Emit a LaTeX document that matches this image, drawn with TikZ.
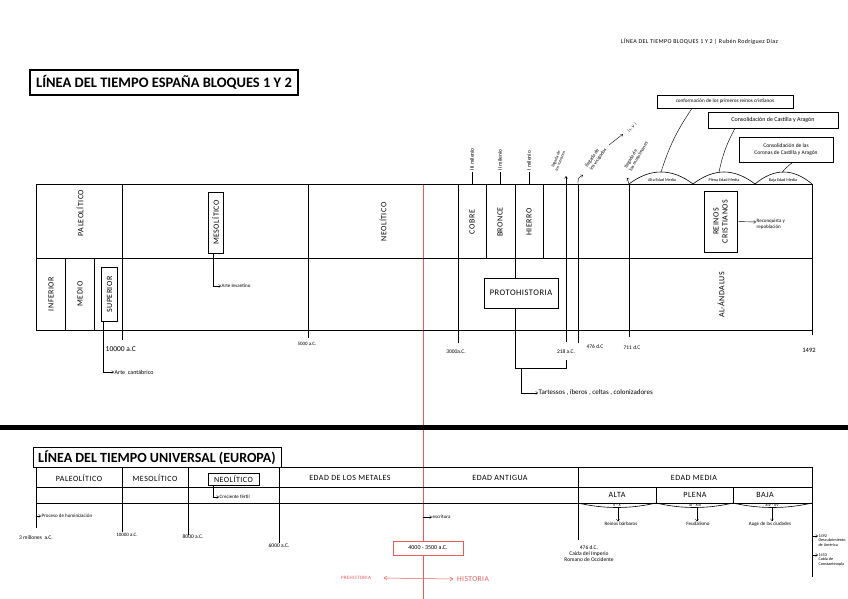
\documentclass[tikz,border=0pt]{standalone}
\usepackage{fontspec}
\setmainfont{Carlito}
\newfontfamily\spc[LetterSpace=6]{Carlito}
\usetikzlibrary{arrows.meta}
\definecolor{redl}{RGB}{236,90,90}
\begin{document}
\begin{tikzpicture}[x=1pt,y=-1pt,
  ln/.style={line width=0.6pt},
  thinl/.style={line width=0.45pt},
  arr/.style={line width=0.4pt,-{Straight Barb[length=2pt,width=3pt]}},
  lbl/.style={font=\spc\fontsize{8}{9}\selectfont, inner sep=1pt},
  vlbl/.style={lbl, rotate=90},
  hw/.style={font=\fontsize{5}{5.5}\selectfont, inner sep=0.5pt},
  hws/.style={font=\fontsize{4.2}{4.6}\selectfont, inner sep=0.3pt},
  hwm/.style={font=\fontsize{7.5}{8.5}\selectfont, inner sep=0.5pt},
  cbox/.style={draw, line width=0.6pt, inner sep=1.5pt},
]
\useasboundingbox (0,0) rectangle (848,599);
\fill[white] (0,0) rectangle (848,599);

% header
\node[anchor=west, font=\spc\fontsize{6}{7}\selectfont, inner sep=0] (hdr) at (621,42) {LÍNEA DEL TIEMPO BLOQUES 1 Y 2 | Rubén Rodríguez Díaz};

% title 1
\node[draw, line width=1.1pt, minimum width=268pt, minimum height=25pt, font=\bfseries\fontsize{14.5}{15}\selectfont, inner xsep=2pt] (t1) at (164,82.5) {LÍNEA DEL TIEMPO ESPAÑA BLOQUES 1 Y 2};

% red line
\draw[redl, line width=0.6pt] (423,184) -- (423,599);

% ---------- top chart grid
\draw[ln] (36,184) rectangle (812,330);
\draw[ln] (36,258) -- (812,258);
\draw[ln] (122,184) -- (122,340);
\draw[ln] (65,258) -- (65,330);
\draw[ln] (94,258) -- (94,330);
\draw[ln] (308,184) -- (308,338);
\draw[ln] (458,184) -- (458,343);
\draw[ln] (486,184) -- (486,258);
\draw[ln] (543,184) -- (543,258);
\draw[ln] (515,184) -- (515,278);
\draw[ln] (515,308) -- (515,368) -- (566,368) -- (566,360);
\draw[ln,-{Straight Barb[length=2pt,width=3pt]}] (566,342) -- (566,176);
\draw[ln] (578,343) -- (578,184);
\draw[ln] (629,337) -- (629,184);
\draw[ln] (812,330) -- (812,335);

% milenios
\foreach \x/\t/\n in {472/III/a, 500/II/b, 529/I/c}{
  \draw[thinl] (\x,184) -- (\x,172);
  \node[font=\fontsize{5.5}{6}\selectfont, inner sep=0.5pt, rotate=90, anchor=west] (mil\n) at (\x,171) {\t\ milenio};
}

% llegadas
\node[hws, rotate=68, align=center] (rom) at (558,160) {llegada de\\los romanos};
\node[hw, rotate=55, align=left] (vis) at (596,158) {llegada de\\los visigodos};
\coordinate (hk1) at (583,175);
\draw[arr] (578,184) .. controls (578,178) .. (hk1);
\coordinate (sva) at (609,145);
\coordinate (svb) at (623,134);
\draw[arr] (sva) -- (svb);
\node[hws, rotate=45] (sv) at (632,128) {( s. V )};
\node[hw, rotate=60, align=left] (mus) at (636,155) {llegada de\\los musulmanes};
\coordinate (hk2) at (627,178);
\draw[arr] (629,184) .. controls (629,181) .. (hk2);

% arcs Edad Media (top)
\draw[ln] (629,184) .. controls (650,168) and (672,168) .. (693,184)
          .. controls (714,168) and (734,168) .. (755,184)
          .. controls (774,168) and (793,168) .. (812,184);
\node[hws] (am) at (662,180.5) {Alta Edad Media};
\node[hws] (pm) at (724,180.5) {Plena Edad Media};
\node[hws] (bm) at (783,180.5) {Baja Edad Media};
\coordinate (pk1) at (661,172);
\coordinate (pk2) at (719,172);
\coordinate (pk3) at (782,172.5);

% callouts
\node[cbox, minimum width=136pt, minimum height=13pt, font=\fontsize{5.2}{6}\selectfont] (b1) at (725,101.5) {conformación de los primeros reinos cristianos};
\node[cbox, minimum width=130pt, minimum height=16pt, font=\fontsize{6}{7}\selectfont] (b2) at (773,120) {Consolidación de Castilla y Aragón};
\node[cbox, minimum width=94pt, minimum height=25pt, align=center, font=\fontsize{5.5}{7}\selectfont] (b3) at (786,149.5) {Consolidación de las\\Coronas de Castilla y Aragón};
\draw[thinl] ([xshift=-33pt]b1.south) to[bend right=8] (pk1);
\draw[thinl] ([xshift=-38pt]b2.south) to[bend right=8] (pk2);
\draw[thinl] ([xshift=7pt]b3.south) to[bend right=8] (pk3);

% paleolitico
\node[vlbl] (pal) at (80,213) {PALEOLÍTICO};
\node[vlbl] (inf) at (51,294) {INFERIOR};
\node[vlbl] (med) at (80,294) {MEDIO};
\node[vlbl, draw, line width=0.6pt, minimum width=54pt, minimum height=16pt] (sup) at (109.5,294.5) {SUPERIOR};
\node[hwm, anchor=west] (d10000) at (105,349) {10000 a.C};
\node[font=\fontsize{6}{7}\selectfont, inner sep=0.5pt, anchor=west] (ac) at (114,372) {Arte \ cantábrico};
\draw[arr] ([xshift=-6.5pt]sup.west) |- (ac.west);

% mesolitico
\node[vlbl, draw, line width=0.6pt, minimum width=61pt, minimum height=15pt] (meso) at (215.5,222.5) {MESOLÍTICO};
\node[hw, anchor=west] (al) at (221,286) {Arte levantino};
\draw[arr] ([xshift=-2.5pt]meso.west) |- (al.west);

% neolitico, metales
\node[vlbl] (neo) at (383,222) {NEOLÍTICO};
\node[vlbl] (cob) at (472,222) {COBRE};
\node[vlbl] (bro) at (500,222) {BRONCE};
\node[vlbl] (hie) at (529,222) {HIERRO};
\node[cbox, minimum width=74pt, minimum height=30pt, font=\spc\fontsize{8.5}{9}\selectfont] (prot) at (521,293) {PROTOHISTORIA};
\node[font=\fontsize{7}{8}\selectfont, anchor=west, inner sep=0.5pt] (tart) at (538,393) {Tartessos , íberos , celtas , colonizadores};
\coordinate (brk) at (521,368);
\draw[arr] (brk) |- (tart.west);

% dates top
\node[hw] (d5000) at (307,344) {5000 a.C.};
\node[font=\fontsize{5.5}{6}\selectfont, inner sep=0.5pt] (d3000) at (456,352) {3000a.C.};
\node[font=\fontsize{5.5}{6}\selectfont, inner sep=0.5pt] (d218) at (566,352) {218 a.C.};
\node[font=\fontsize{5.5}{6}\selectfont, inner sep=0.5pt] (d476) at (595,347) {476 d.C};
\node[font=\fontsize{5.5}{6}\selectfont, inner sep=0.5pt] (d711) at (632,348) {711 d.C};
\node[font=\fontsize{6.5}{7}\selectfont, inner sep=0.5pt] (d1492) at (809,350) {1492};

% reinos cristianos / al-andalus
\node[vlbl, draw, line width=0.6pt, minimum width=61pt, minimum height=33pt, align=center] (rc) at (720.5,221.5) {REINOS\\CRISTIANOS};
\node[hw, anchor=west, align=left] (reco) at (756,224) {Reconquista y\\repoblación};
\draw[arr] (rc.south) -- ([yshift=2pt]reco.west);
\node[vlbl] (aland) at (721,295) {AL-ÁNDALUS};

% thick separator
\fill (0,425) rectangle (848,430);

% ---------- bottom
\draw[ln] (36,467) rectangle (812,503);
\draw[ln] (36,487) -- (812,487);
\draw[ln] (36,503) -- (36,528);
\draw[ln] (122,467) -- (122,532);
\draw[ln] (188,467) -- (188,535);
\draw[ln] (279,467) -- (279,543);
\draw[ln] (578,467) -- (578,540);
\draw[ln] (656,487) -- (656,503);
\draw[ln] (733,487) -- (733,503);
\draw[ln] (812,503) -- (812,577);
\node[draw, fill=white, line width=1pt, minimum width=248pt, minimum height=19pt, font=\bfseries\fontsize{14}{15}\selectfont, inner xsep=2pt] (t2) at (157,457.5) {LÍNEA DEL TIEMPO UNIVERSAL (EUROPA)};

\node[lbl] (bpal) at (79,478) {PALEOLÍTICO};
\node[lbl] (bmes) at (155,478) {MESOLÍTICO};
\node[lbl, draw, line width=0.6pt, minimum width=51pt, minimum height=12pt] (bneo) at (233.5,479) {NEOLÍTICO};
\node[lbl] (bmet) at (350,478) {EDAD DE LOS METALES};
\node[lbl] (bant) at (500,478) {EDAD ANTIGUA};
\node[lbl] (bmed) at (694,478) {EDAD MEDIA};
\node[lbl] (alta) at (617,495) {ALTA};
\node[lbl] (plena) at (695,495) {PLENA};
\node[lbl] (baja) at (765,495) {BAJA};

% arcs below
\draw[ln] (578,503) .. controls (604,509) and (630,509) .. (656,503)
          .. controls (682,509) and (707,509) .. (733,503)
          .. controls (759,509) and (786,509) .. (812,503);
\node[hws] (s1) at (617,505) {V - X};
\node[hws] (s2) at (695,505) {XI - XIII};
\node[hws] (s3) at (772,505) {XIV - XV};
\node[hw] (rb) at (621,524) {Reinos bárbaros};
\node[hw] (feu) at (698,524) {Feudalismo};
\node[hw] (auge) at (770,524) {Auge de las ciudades};
\coordinate (ab1) at (618,508);
\coordinate (ab2) at (697,508);
\coordinate (ab3) at (772,508);
\draw[arr] (ab1) -- (ab1 |- rb.north);
\draw[arr] (ab2) -- (ab2 |- feu.north);
\draw[arr] (ab3) -- (ab3 |- auge.north);

% right notes
\node[hws, anchor=north west, align=left] (n1492) at (818,534) {1492\\Descubrimiento\\de América};
\node[hws, anchor=north west, align=left] (n1453) at (818,553) {1453\\Caída de\\Constantinopla};
\coordinate (r1) at (812,536);
\coordinate (r2) at (812,555);
\draw[arr] (r1) -- (r1 -| n1492.west);
\draw[arr] (r2) -- (r2 -| n1453.west);

% left notes
\node[hw, anchor=west] (hom) at (41,516) {Proceso de hominización};
\coordinate (hm) at (36,516);
\draw[arr] (hm) -- (hom.west);
\node[font=\fontsize{5.5}{6}\selectfont, inner sep=0.5pt] (d3m) at (36,538) {3 millones \ a.C.};
\node[hw] (b10000) at (127,535) {10000 a.C.};
\node[font=\fontsize{5.5}{6}\selectfont, inner sep=0.5pt] (b8000) at (193,537) {8000 a.C.};
\node[font=\fontsize{5.5}{6}\selectfont, inner sep=0.5pt] (b6000) at (279,546) {6000 a.C.};
\node[hw, anchor=west] (cre) at (219,497) {Creciente fértil};
\draw[arr] ([xshift=-20.5pt]bneo.south) |- (cre.west);

\node[hw, anchor=west] (esc) at (432,517) {escritura};
\coordinate (es) at (423,517);
\draw[arr] (es) -- (esc.west);

\node[draw=redl, fill=white, line width=0.7pt, minimum width=70pt, minimum height=14pt, font=\fontsize{6}{7}\selectfont, inner sep=1pt] (rbox) at (428,548) {4000 - 3500 a.C.};

\node[font=\fontsize{5.5}{6}\selectfont, align=center, inner sep=0.5pt] (d476b) at (589,554) {476 d.C.\\Caída del Imperio\\Romano de Occidente};

\node[text=redl, font=\spc\fontsize{5}{6}\selectfont, inner sep=0.5pt] (pre) at (356,578) {PREHISTORIA};
\node[text=redl, font=\spc\fontsize{7.5}{8}\selectfont, inner sep=0.5pt] (his) at (473,579) {HISTORIA};
\draw[redl, line width=0.5pt, {Straight Barb[length=3pt,width=4pt]}-{Straight Barb[length=3pt,width=4pt]}] ([xshift=12pt]pre.east) -- ([xshift=-3pt]his.west);

\end{tikzpicture}
\end{document}
